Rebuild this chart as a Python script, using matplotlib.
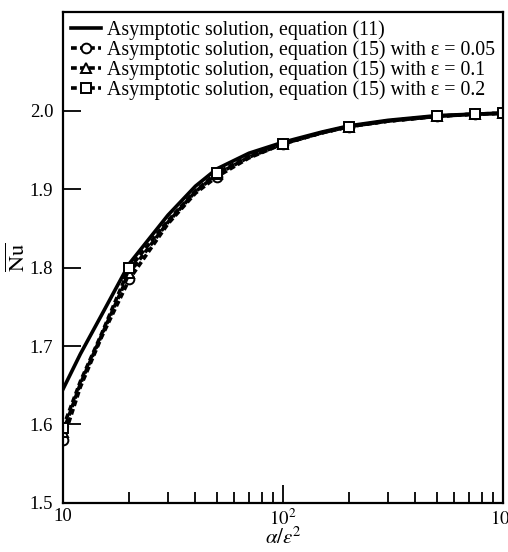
import matplotlib.pyplot as plt
from matplotlib.ticker import NullFormatter, NullLocator

plt.rcParams['font.family'] = ['Liberation Serif', 'DejaVu Serif']
plt.rcParams['mathtext.fontset'] = 'stix'

# alpha/eps^2 values
x = [10, 12, 15, 20, 30, 40, 50, 70, 100, 150, 200, 300, 500, 750, 1000]
marker_idx = [0, 3, 6, 8, 10, 12, 13, 14]

nu_eq11 = [1.645, 1.690, 1.740, 1.805, 1.867, 1.904, 1.926, 1.946, 1.960, 1.973, 1.981, 1.988, 1.994, 1.996, 1.997]
nu_eps005 = [1.580, 1.648, 1.712, 1.785, 1.856, 1.895, 1.916, 1.940, 1.958, 1.972, 1.980, 1.987, 1.993, 1.996, 1.997]
nu_eps01 = [1.590, 1.652, 1.714, 1.793, 1.858, 1.897, 1.919, 1.941, 1.958, 1.972, 1.980, 1.987, 1.993, 1.996, 1.997]
nu_eps02 = [1.596, 1.655, 1.716, 1.799, 1.860, 1.898, 1.921, 1.942, 1.958, 1.972, 1.980, 1.987, 1.993, 1.996, 1.997]

labels = ['Asymptotic solution, equation (11)',
          'Asymptotic solution, equation (15) with ε = 0.05',
          'Asymptotic solution, equation (15) with ε = 0.1',
          'Asymptotic solution, equation (15) with ε = 0.2']

fig = plt.figure(figsize=(5.08, 5.52), dpi=100)
ax = fig.add_axes([0.124, 0.089, 0.866, 0.889])

ax.plot(x, nu_eq11, color='black', lw=2.6, label=labels[0])
dash = (0, (1.6, 0.9))
for y, m, lab in [(nu_eps005, 'o', labels[1]), (nu_eps01, '^', labels[2]), (nu_eps02, 's', labels[3])]:
    ax.plot(x, y, color='black', lw=2.6, linestyle=dash, marker=m, markevery=marker_idx,
            markersize=7, markerfacecolor='white', markeredgecolor='black',
            markeredgewidth=1.4, label=lab)

ax.set_xscale('log')
ax.set_xlim(10, 1000)
ax.set_ylim(1.5, 2.126)
ax.set_xticks([10, 100, 1000])
ax.set_xticklabels(['10', r'$10^2$', r'$10^3$'])
ax.xaxis.set_minor_formatter(NullFormatter())
ax.set_yticks([1.5, 1.6, 1.7, 1.8, 1.9, 2.0])
ax.set_yticklabels(['1.5', '1.6', '1.7', '1.8', '1.9', '2.0'])
ax.yaxis.set_minor_locator(NullLocator())
ax.tick_params(which='both', direction='in', labelsize=13.5, width=1.3)
ax.tick_params(which='major', length=13, pad=7)
ax.tick_params(which='minor', length=8)
ax.tick_params(axis='x', which='major', pad=4)
for s in ax.spines.values():
    s.set_linewidth(1.6)

ax.set_xlabel(r'$\alpha/\varepsilon^2$', fontsize=15, labelpad=-1)
ax.set_ylabel(r'$\overline{\mathrm{Nu}}$', fontsize=16, labelpad=0)

ax.legend(loc='upper left', frameon=False, fontsize=14.3, handlelength=1.5,
          handletextpad=0.3, labelspacing=0.02, borderaxespad=0.2, borderpad=0.2)

fig.savefig('out.png', dpi=100)
